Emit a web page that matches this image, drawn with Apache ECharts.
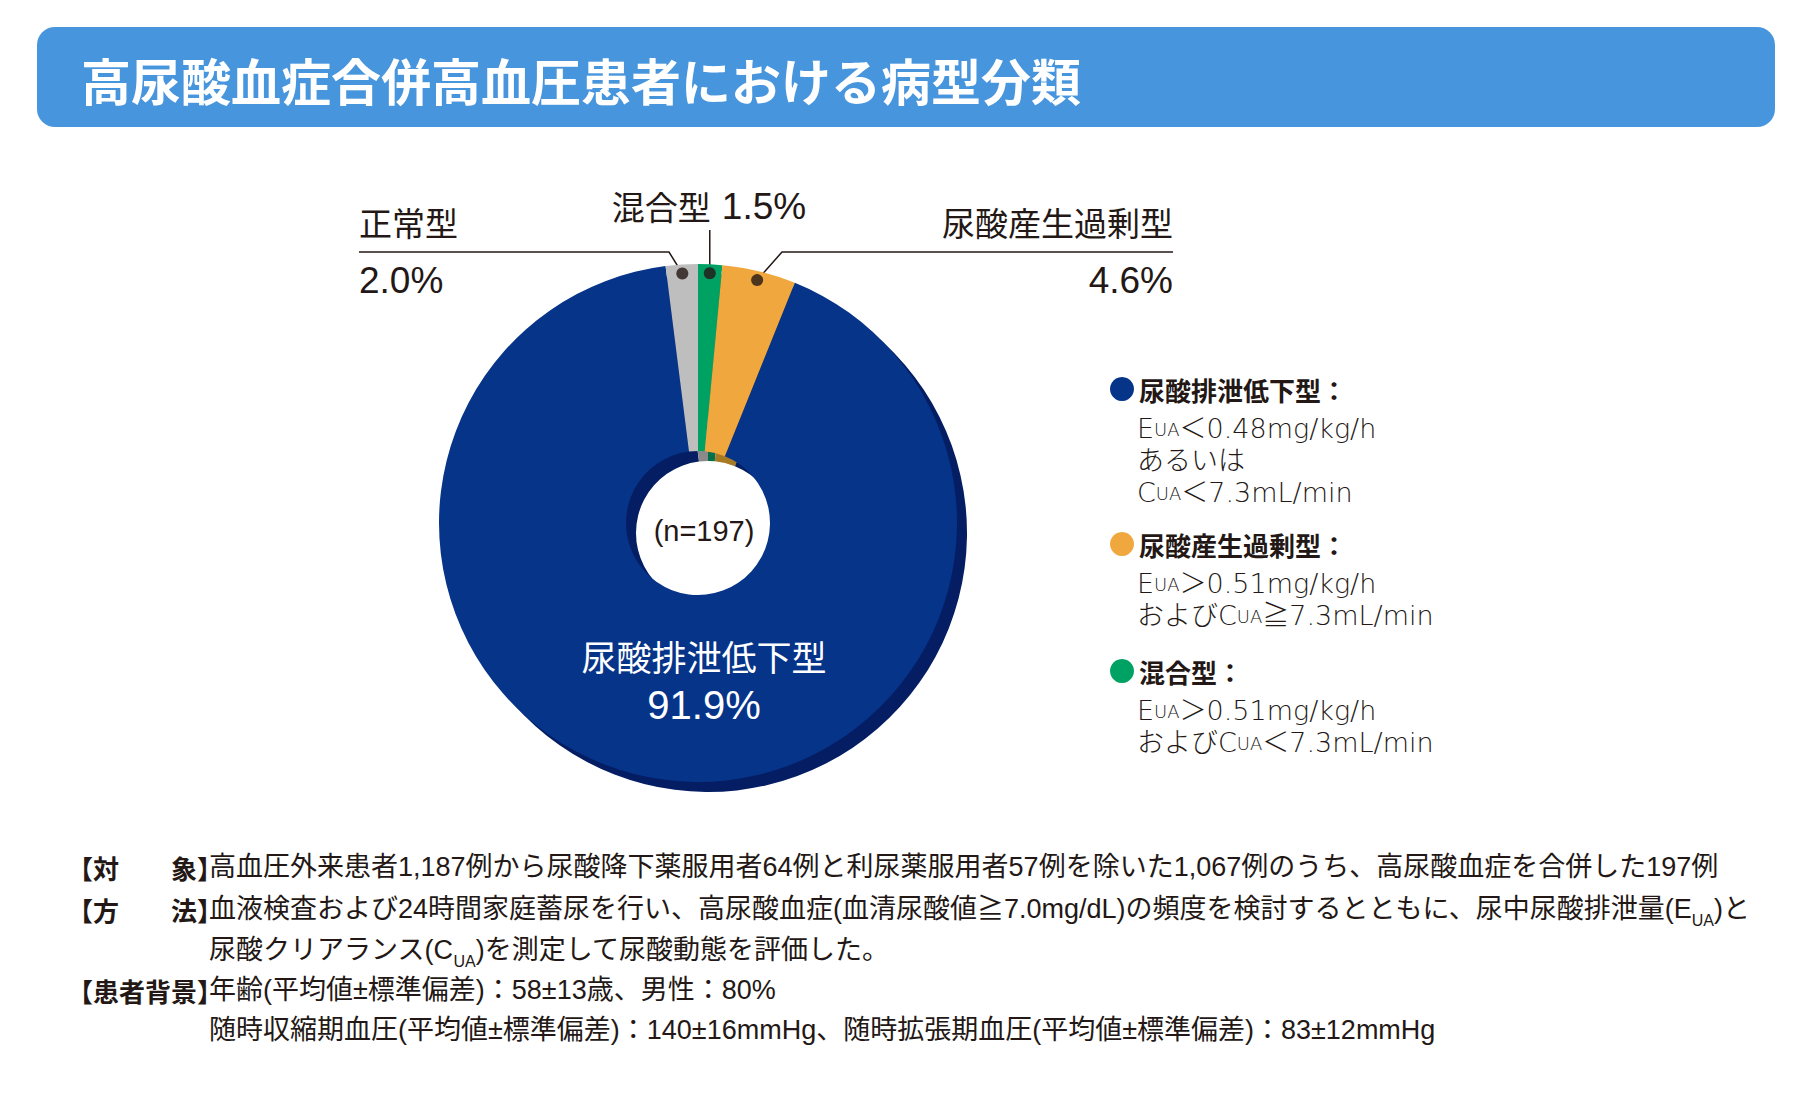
<!DOCTYPE html>
<html lang="ja">
<head>
<meta charset="utf-8">
<title>高尿酸血症合併高血圧患者における病型分類</title>
<script src="https://cdn.jsdelivr.net/npm/echarts@6.0.0/dist/echarts.min.js"></script>
<style>
html,body{margin:0;padding:0;background:#ffffff;}
#chart{width:1812px;height:1106px;}
</style>
</head>
<body>
<div id="chart"></div>
<script>
// ---------------- data ----------------
const titleText = '高尿酸血症合併高血圧患者における病型分類';
const categories = ['混合型', '尿酸産生過剰型', '尿酸排泄低下型', '正常型'];
const percents = [1.5, 4.6, 91.9, 2.0];
const sampleSize = 197;
const insideName = '尿酸排泄低下型';
const inlineName = '混合型';
const legendNames = ['尿酸排泄低下型', '尿酸産生過剰型', '混合型'];
const legendNotes = [
  ['EUA＜0.48mg/kg/h', 'あるいは', 'CUA＜7.3mL/min'],
  ['EUA＞0.51mg/kg/h', 'およびCUA≧7.3mL/min'],
  ['EUA＞0.51mg/kg/h', 'およびCUA＜7.3mL/min']
];
const noteHeads = ['【対　　象】', '【方　　法】', '', '【患者背景】', ''];
const noteLines = [
  '高血圧外来患者1,187例から尿酸降下薬服用者64例と利尿薬服用者57例を除いた1,067例のうち、高尿酸血症を合併した197例',
  '血液検査および24時間家庭蓄尿を行い、高尿酸血症(血清尿酸値≧7.0mg/dL)の頻度を検討するとともに、尿中尿酸排泄量(EUA)と',
  '尿酸クリアランス(CUA)を測定して尿酸動態を評価した。',
  '年齢(平均値±標準偏差)：58±13歳、男性：80%',
  '随時収縮期血圧(平均値±標準偏差)：140±16mmHg、随時拡張期血圧(平均値±標準偏差)：83±12mmHg'
];

// ---------------- styles / layout ----------------
const sliceColors = {'混合型': '#00a264', '尿酸産生過剰型': '#f0a73e', '尿酸排泄低下型': '#063489', '正常型': '#bebebe'};
const wallColors = {'混合型': '#00714a', '尿酸産生過剰型': '#a87a24', '尿酸排泄低下型': '#041d63', '正常型': '#8a8a8a'};
const INK = '#231815';
const FONT_JP = "'Noto Sans CJK JP', sans-serif";
const FONT_NUM = "'Liberation Sans', 'Noto Sans CJK JP', sans-serif";
const FONT_LEG = "'DejaVu Sans', 'Noto Sans CJK JP', sans-serif";
const CX = 698, CY = 523, R_IN = 72, R_OUT = 259, DEPTH = 10, DOT_R = 250;
const labelSpots = {
  '正常型': {x: 359, y: 251, align: 'left', line: [[669, 252], [359, 252]]},
  '尿酸産生過剰型': {x: 1173, y: 251, align: 'right', line: [[782, 252], [1173, 252]]},
  '混合型': {x: 709, y: 206, align: 'center', lineTop: 230},
  '尿酸排泄低下型': {x: 704, y: 680, align: 'center'}
};
const legendTops = [376, 531, 658];
const legendNoteTops = [412, 567, 694];
const noteRowY = [867, 909, 950, 990, 1030];

// mid-angle of each slice in percent units (for the leader-line dots)
const mids = [];
percents.reduce((acc, v) => { mids.push(acc + v / 2); return acc + v; }, 0);
const dotPoint = (i) => {
  const a = mids[i] / 100 * 2 * Math.PI;
  return [CX + DOT_R * Math.sin(a), CY - DOT_R * Math.cos(a)];
};
const sub = (t) => t.replace(/([EC])UA/g, '$1{s|UA}');

const chart = echarts.init(document.getElementById('chart'), null, {renderer: 'svg'});

const graphic = [
  {type: 'rect', shape: {x: 37, y: 27, width: 1738, height: 100, r: 18}, style: {fill: '#4795dd'}, z: -1, silent: true},
  {type: 'text', x: 704, y: 531, z: 10, silent: true,
   style: {text: '(n=' + sampleSize + ')', align: 'center', verticalAlign: 'middle', fontSize: 29, fontFamily: FONT_NUM, fill: INK}}
];
legendNotes.forEach((lines, i) => {
  graphic.push({type: 'text', x: 1137, y: legendNoteTops[i], silent: true,
    style: {text: lines.map(sub).join('\n'), align: 'left', verticalAlign: 'top',
      fontSize: 27, lineHeight: 32, fontFamily: FONT_LEG, fontWeight: 200, fill: INK,
      rich: {s: {fontSize: 18, lineHeight: 32, verticalAlign: 'middle', padding: [2, 0, 0, 0], fontFamily: FONT_LEG, fontWeight: 200, fill: INK}}}});
});
noteLines.forEach((t, i) => {
  const y = noteRowY[i];
  if (noteHeads[i]) {
    graphic.push({type: 'text', x: 223, y: y, silent: true,
      style: {text: noteHeads[i], align: 'right', verticalAlign: 'middle', fontSize: 26, fontWeight: 'bold', fontFamily: FONT_JP, fill: INK}});
  }
  graphic.push({type: 'text', x: 209, y: y, silent: true,
    style: {text: sub(t), align: 'left', verticalAlign: 'middle', fontSize: 27, lineHeight: 40, fontFamily: FONT_NUM, fill: INK,
      rich: {s: {fontSize: 16, lineHeight: 28, verticalAlign: 'bottom', fontFamily: FONT_NUM, fill: INK}}}});
});

const pieData = categories.map((name, i) => {
  const inside = name === insideName;
  return {
    name: name,
    value: percents[i],
    itemStyle: {color: sliceColors[name]},
    label: inside ? {position: 'inside'} : {position: 'outside'},
    labelLine: {show: !inside}
  };
});

const option = {
  animation: false,
  title: [{
    text: titleText, left: 81, top: 50, padding: 0,
    textStyle: {color: '#ffffff', fontSize: 50, fontWeight: 'bold', fontFamily: FONT_JP, lineHeight: 58}
  }],
  legend: legendNames.map((n, i) => ({
    data: [n], left: 1110, top: legendTops[i], padding: 0, orient: 'vertical',
    icon: 'circle', itemWidth: 24, itemHeight: 24, selectedMode: false,
    formatter: '{name}：',
    textStyle: {fontSize: 26, fontWeight: 'bold', color: INK, fontFamily: FONT_JP}
  })),
  polar: {center: [CX, CY], radius: [0, R_OUT]},
  angleAxis: {type: 'value', min: 0, max: 100, startAngle: 90, clockwise: true, show: false},
  radiusAxis: {type: 'value', min: 0, max: R_OUT, show: false},
  graphic: graphic,
  series: [
    {
      type: 'pie', name: 'wall', center: [CX + DEPTH, CY + DEPTH], radius: [R_IN, R_OUT],
      startAngle: 90, clockwise: true, silent: true, z: 1,
      label: {show: false}, labelLine: {show: false}, emphasis: {disabled: true},
      data: categories.map((name, i) => ({value: percents[i], itemStyle: {color: wallColors[name]}}))
    },
    {
      type: 'pie', name: '病型分類', center: [CX, CY], radius: [R_IN, R_OUT],
      startAngle: 90, clockwise: true, z: 2, avoidLabelOverlap: false, emphasis: {disabled: true},
      label: {
        show: true,
        formatter: (p) => {
          const v = p.value.toFixed(1) + '%';
          if (p.name === insideName) return '{wn|' + p.name + '}\n{wv|' + v + '}';
          if (p.name === inlineName) return '{n|' + p.name + '}{vs|' + v + '}';
          return '{n|' + p.name + '}\n{v|' + v + '}';
        },
        rich: {
          n: {fontSize: 33, lineHeight: 58, color: INK, fontFamily: FONT_JP},
          v: {fontSize: 37, lineHeight: 58, color: INK, fontFamily: FONT_NUM},
          vs: {fontSize: 37, lineHeight: 58, color: INK, fontFamily: FONT_NUM, padding: [0, 0, 0, 11]},
          wn: {fontSize: 35, lineHeight: 49, color: '#ffffff', fontFamily: FONT_JP},
          wv: {fontSize: 40, lineHeight: 49, color: '#ffffff', fontFamily: FONT_NUM}
        }
      },
      labelLine: {lineStyle: {color: INK, width: 1.5}},
      labelLayout: (p) => {
        const name = categories[p.dataIndex];
        const s = labelSpots[name];
        const out = {x: s.x, y: s.y, align: s.align, verticalAlign: 'middle'};
        if (s.line || s.lineTop) {
          const d = dotPoint(p.dataIndex);
          out.labelLinePoints = s.line ? [d, s.line[0], s.line[1]] : [d, [d[0], s.lineTop]];
        }
        return out;
      },
      data: pieData
    },
    {
      type: 'scatter', coordinateSystem: 'polar', silent: true, z: 5,
      symbol: 'circle', symbolSize: 12, itemStyle: {color: INK},
      data: categories.map((name, i) => name === insideName ? null : [DOT_R, mids[i]]).filter(Boolean)
    }
  ]
};
chart.setOption(option);
</script>
</body>
</html>
